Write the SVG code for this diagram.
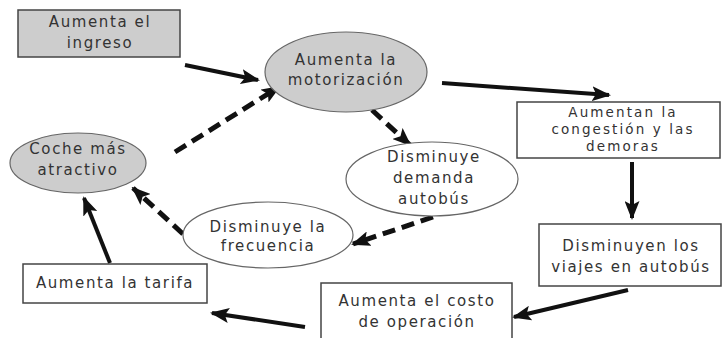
<svg xmlns="http://www.w3.org/2000/svg" width="722" height="338" viewBox="0 0 722 338">
<style>
text{font-family:"DejaVu Sans","Liberation Sans",sans-serif;font-size:15px;fill:#333;text-anchor:middle;letter-spacing:1.6px}
text.sm{font-size:13.5px;letter-spacing:2.1px}
.box{fill:#fff;stroke:#444;stroke-width:1.5}
.gbox{fill:#cdcdcd;stroke:#444;stroke-width:1.5}
.ell{fill:#fff;stroke:#666;stroke-width:1.2}
.gell{fill:#cdcdcd;stroke:#666;stroke-width:1.2}
.solid{fill:none;stroke:#111;stroke-width:4;marker-end:url(#ah)}
.dash{fill:none;stroke:#111;stroke-width:5;stroke-dasharray:13 7;marker-end:url(#ah)}
</style>
<defs>
<marker id="ah" markerUnits="userSpaceOnUse" markerWidth="19" markerHeight="15" refX="17" refY="7.5" orient="auto">
<path d="M0,0 L19,7.5 L0,15 L4,7.5 z" fill="#111"/>
</marker>
</defs>
<rect width="722" height="338" fill="#fff"/>
<g id="connectors">
<line class="solid" x1="185" y1="65" x2="258" y2="80"/>
<line class="solid" x1="442" y1="83" x2="609" y2="95"/>
<line class="solid" x1="632" y1="162" x2="632" y2="218"/>
<line class="solid" x1="628" y1="290" x2="514" y2="317"/>
<line class="solid" x1="305" y1="327" x2="212" y2="313"/>
<line class="solid" x1="110" y1="263" x2="84" y2="198"/>
<line class="dash" x1="372" y1="110" x2="410" y2="145"/>
<line class="dash" x1="433" y1="217" x2="353" y2="244"/>
<line class="dash" x1="183" y1="234" x2="133" y2="188"/>
<line class="dash" x1="175" y1="152" x2="279" y2="87"/>
</g>
<g id="ingreso">
<rect class="gbox" x="18" y="10" width="162" height="47"/>
<text x="100" y="27">Aumenta el</text>
<text x="100" y="48">ingreso</text>
</g>
<g id="motorizacion">
<ellipse class="gell" cx="346" cy="72" rx="81" ry="40"/>
<text x="346" y="65">Aumenta la</text>
<text x="346" y="85">motorización</text>
</g>
<g id="congestion">
<rect class="box" x="517" y="102" width="203" height="56"/>
<text class="sm" x="623" y="117">Aumentan la</text>
<text class="sm" x="623" y="134">congestión y las</text>
<text class="sm" x="623" y="151">demoras</text>
</g>
<g id="coche">
<ellipse class="gell" cx="78" cy="163" rx="68" ry="30"/>
<text x="78" y="154">Coche más</text>
<text x="78" y="175">atractivo</text>
</g>
<g id="demanda">
<ellipse class="ell" cx="432" cy="179" rx="86" ry="37"/>
<text x="434" y="162">Disminuye</text>
<text x="434" y="183">demanda</text>
<text x="434" y="204">autobús</text>
</g>
<g id="frecuencia">
<ellipse class="ell" cx="268" cy="235" rx="85" ry="33"/>
<text x="268" y="232">Disminuye la</text>
<text x="268" y="251">frecuencia</text>
</g>
<g id="viajes">
<rect class="box" x="539" y="224" width="182" height="62"/>
<text x="631" y="251">Disminuyen los</text>
<text x="631" y="272">viajes en autobús</text>
</g>
<g id="tarifa">
<rect class="box" x="23" y="264" width="184" height="39"/>
<text x="115" y="288">Aumenta la tarifa</text>
</g>
<g id="costo">
<rect class="box" x="321" y="283" width="191" height="60"/>
<text x="417" y="306">Aumenta el costo</text>
<text x="417" y="327">de operación</text>
</g>
</svg>
